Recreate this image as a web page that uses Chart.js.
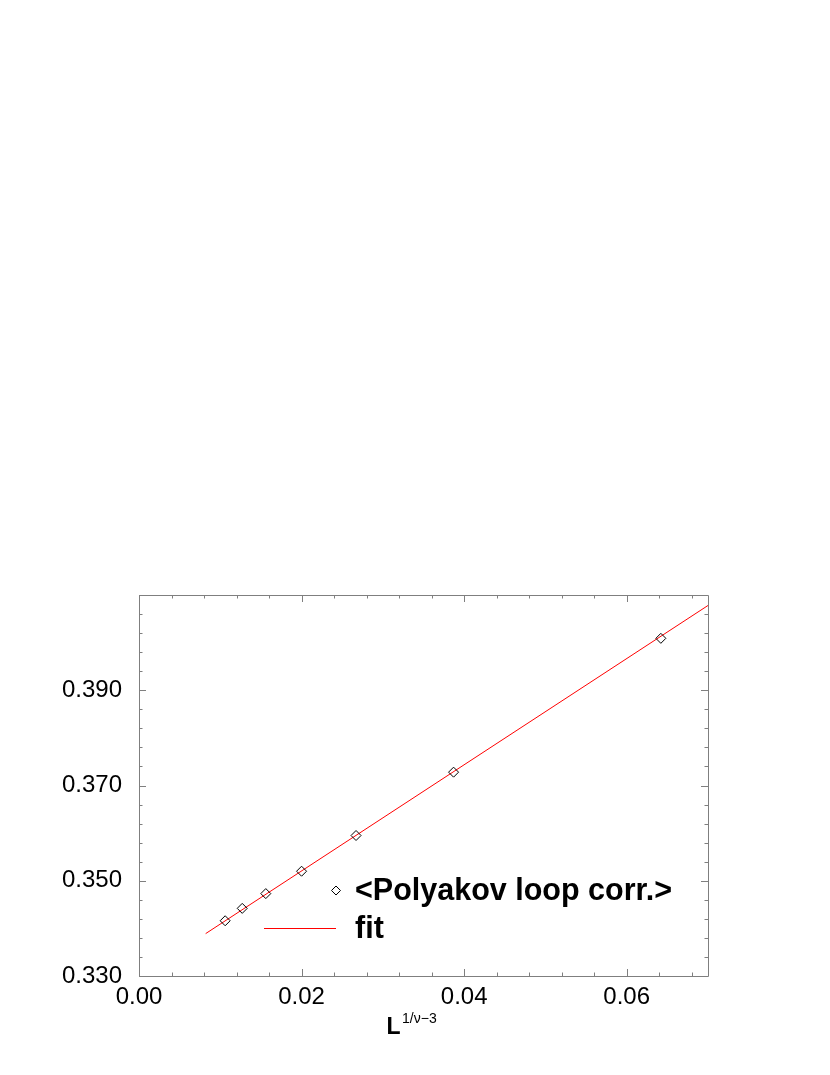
<!DOCTYPE html>
<html>
<head>
<meta charset="utf-8">
<script src="https://cdn.jsdelivr.net/npm/chart.js@4/dist/chart.umd.min.js"></script>
<style>
  html, body { margin: 0; padding: 0; background: #fff; }
  #wrap { width: 830px; height: 1075px; }
</style>
</head>
<body>
<div id="wrap"><canvas id="c" width="830" height="1075"></canvas></div>
<script>
// ---- data ----
const polyX = [0.0106, 0.0127, 0.0156, 0.0200, 0.0267, 0.0387, 0.0642];
const polyY = [0.3416, 0.3442, 0.3473, 0.3520, 0.3595, 0.3728, 0.4009];
const fitX = [0.0082, 0.0700];
const fitY = [0.3389, 0.4078];
const xTicks = [0.00, 0.02, 0.04, 0.06];
const yTicks = [0.330, 0.350, 0.370, 0.390];
const xRange = [0, 0.07];
const yRange = [0.33, 0.41];
const minorStep = 0.004;
const majorStep = 0.02;
const seriesLabels = ['<Polyakov loop corr.>', 'fit'];
const xTitle = 'L';
const xTitleSup = '1/\u03bd\u22123';

const FONT = '"Liberation Sans", Arial, Helvetica, sans-serif';
const FRAME = '#7f7f7f';

const framePlugin = {
  id: 'frameTicks',
  afterDatasetsDraw(chart) {
    const ctx = chart.ctx, a = chart.chartArea;
    const xs = chart.scales.x, ys = chart.scales.y;
    ctx.save();
    ctx.strokeStyle = FRAME;
    ctx.lineWidth = 1;
    ctx.beginPath();
    ctx.rect(Math.round(a.left) + 0.5, Math.round(a.top) + 0.5,
             Math.round(a.right - a.left), Math.round(a.bottom - a.top));
    ctx.stroke();
    const majLen = 7, minLen = 3.5;
    const isMajor = (v, origin) => {
      const q = (v - origin) / majorStep;
      return Math.abs(q - Math.round(q)) < 1e-6;
    };
    ctx.beginPath();
    for (let i = 0; ; i++) {
      const v = xRange[0] + i * minorStep;
      if (v > xRange[1] + 1e-9) break;
      const px = Math.round(xs.getPixelForValue(v)) + 0.5;
      const L = isMajor(v, xRange[0]) ? majLen : minLen;
      ctx.moveTo(px, a.bottom); ctx.lineTo(px, a.bottom - L);
      ctx.moveTo(px, a.top); ctx.lineTo(px, a.top + L);
    }
    for (let i = 0; ; i++) {
      const v = yRange[0] + i * minorStep;
      if (v > yRange[1] + 1e-9) break;
      const py = Math.round(ys.getPixelForValue(v)) + 0.5;
      const L = isMajor(v, yRange[0]) ? majLen : minLen;
      ctx.moveTo(a.left, py); ctx.lineTo(a.left + L, py);
      ctx.moveTo(a.right, py); ctx.lineTo(a.right - L, py);
    }
    ctx.stroke();

    // x-axis title with superscript
    const tx = (a.left + a.right) / 2 - 37;
    const ty = a.bottom + 58;
    ctx.fillStyle = '#000';
    ctx.textBaseline = 'alphabetic';
    ctx.textAlign = 'left';
    ctx.font = 'bold 23px ' + FONT;
    ctx.fillText(xTitle, tx, ty);
    const w = ctx.measureText(xTitle).width;
    ctx.font = '14px ' + FONT;
    ctx.fillText(xTitleSup, tx + w + 1.5, ty - 11);

    // legend
    const lx = 264, lx2 = 336, tx2 = 355;
    const r1 = 890.5, r2 = 927.7;
    const ds0 = chart.data.datasets[0], ds1 = chart.data.datasets[1];
    ctx.strokeStyle = ds0.pointBorderColor;
    ctx.fillStyle = 'rgba(0,0,0,0)';
    ctx.lineWidth = 1;
    Chart.helpers.drawPoint(ctx, { pointStyle: 'rectRot', radius: 4.5, borderWidth: 1 }, lx2, r1);
    ctx.strokeStyle = ds1.borderColor;
    ctx.beginPath();
    ctx.moveTo(lx, Math.round(r2) + 0.5); ctx.lineTo(lx2, Math.round(r2) + 0.5);
    ctx.stroke();
    ctx.fillStyle = '#000';
    ctx.font = 'bold 30.5px ' + FONT;
    ctx.fillText(ds0.label, tx2, 900);
    ctx.fillText(ds1.label, tx2, 938);
    ctx.restore();
  }
};

new Chart(document.getElementById('c'), {
  type: 'scatter',
  data: {
    datasets: [
      {
        label: seriesLabels[0],
        data: polyX.map((x, i) => ({ x, y: polyY[i] })),
        pointStyle: 'rectRot',
        pointRadius: 5,
        pointBorderWidth: 1,
        pointBorderColor: '#000',
        pointBackgroundColor: 'rgba(0,0,0,0)',
        showLine: false,
        order: 0
      },
      {
        label: seriesLabels[1],
        data: fitX.map((x, i) => ({ x, y: fitY[i] })),
        showLine: true,
        borderColor: '#ff0000',
        borderWidth: 1,
        pointRadius: 0,
        fill: false,
        order: 1
      }
    ]
  },
  options: {
    responsive: false,
    animation: false,
    devicePixelRatio: 1,
    layout: { padding: { left: 0, right: 122, top: 595, bottom: 0 } },
    plugins: { legend: { display: false }, tooltip: { enabled: false } },
    scales: {
      x: {
        type: 'linear',
        min: xRange[0], max: xRange[1],
        afterBuildTicks: s => { s.ticks = xTicks.map(v => ({ value: v })); },
        afterFit: s => { s.height = 99; },
        grid: { display: false, drawTicks: false },
        border: { display: false },
        ticks: {
          color: '#000', padding: 7, maxRotation: 0, autoSkip: false,
          font: { family: FONT, size: 24 },
          callback: v => Number(v).toFixed(2)
        }
      },
      y: {
        type: 'linear',
        min: yRange[0], max: yRange[1],
        afterBuildTicks: s => { s.ticks = yTicks.map(v => ({ value: v })); },
        afterFit: s => { s.width = 139; },
        grid: { display: false, drawTicks: false },
        border: { display: false },
        ticks: {
          color: '#000', padding: 17, autoSkip: false,
          font: { family: FONT, size: 24 },
          callback: v => Number(v).toFixed(3)
        }
      }
    }
  },
  plugins: [framePlugin]
});
</script>
</body>
</html>
